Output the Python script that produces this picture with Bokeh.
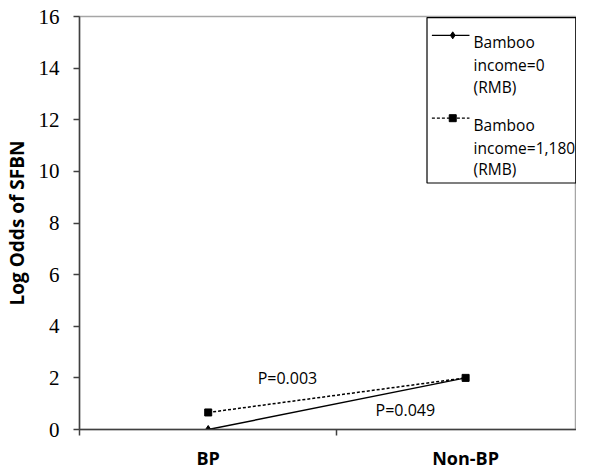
from bokeh.plotting import figure
from bokeh.models import FixedTicker, Label, Range1d
from bokeh.embed import file_html
from bokeh.resources import INLINE

categories = ["BP", "Non-BP"]
income0 = [0.0, 2.0]
income1180 = [0.66, 2.0]
y_ticks = [0, 2, 4, 6, 8, 10, 12, 14, 16]
series_names = ["Bamboo\nincome=0\n(RMB)", "Bamboo\nincome=1,180\n(RMB)"]
p_labels = ["P=0.003", "P=0.049"]

xs = [i + 0.5 for i in range(len(categories))]

p = figure(width=576, height=472, output_backend="svg", toolbar_location=None,
           x_range=Range1d(0, 502 / 260), y_range=Range1d(0, 16),
           min_border_left=74, min_border_right=0, min_border_top=16, min_border_bottom=42)
p.background_fill_color = "white"
p.border_fill_color = "white"
p.outline_line_color = "#a6a6a6"
p.outline_line_width = 1.5
p.grid.visible = False

sans = "Open Sans"

# y axis
ya = p.yaxis[0]
ya.ticker = FixedTicker(ticks=y_ticks)
ya.axis_line_color = "#404040"
ya.axis_line_width = 1.5
ya.major_tick_line_color = "#404040"
ya.major_tick_line_width = 1.5
ya.major_tick_out = 6
ya.major_tick_in = 0
ya.minor_tick_line_color = None
ya.major_label_text_font = "Liberation Serif"
ya.major_label_text_font_size = "21px"
ya.major_label_text_color = "black"
ya.major_label_standoff = 14
ya.axis_label = "Log Odds of SFBN"
ya.axis_label_text_font = sans
ya.axis_label_text_font_style = "bold"
ya.axis_label_text_font_size = "19px"
ya.axis_label_text_color = "black"
ya.axis_label_standoff = 6

# x axis: category names at the centres, tick marks between categories
xa = p.xaxis[0]
xa.ticker = FixedTicker(ticks=xs, minor_ticks=[0, 1])
xa.major_label_overrides = {x: c for x, c in zip(xs, categories)}
xa.major_label_text_font = sans
xa.major_label_text_font_style = "bold"
xa.major_label_text_font_size = "18px"
xa.major_label_text_color = "black"
xa.major_label_standoff = 10
xa.axis_line_color = "#404040"
xa.axis_line_width = 1.5
xa.major_tick_line_color = None
xa.major_tick_out = 0
xa.major_tick_in = 0
xa.minor_tick_line_color = "#404040"
xa.minor_tick_line_width = 1.5
xa.minor_tick_out = 6
xa.minor_tick_in = 0

# legend box (drawn first so that its marks sit on top)
p.quad(left=[1.35], right=[1.928], top=[15.96], bottom=[9.55],
       fill_color="white", line_color="black", line_width=1.2)

# data lines
p.line(xs, income1180, line_color="black", line_width=1.5, line_dash="3 2")
p.scatter(xs, income1180, marker="square", size=7, fill_color="black", line_color="black")
p.line(xs, income0, line_color="black", line_width=1.5)
p.scatter(xs[:1], income0[:1], marker="diamond", size=8, fill_color="black", line_color="black")

# p-value annotations
p.add_layout(Label(x=0.692, y=2.01, text=p_labels[0], text_font=sans, text_font_size="16px",
                   text_color="black", text_baseline="middle", text_align="left"))
p.add_layout(Label(x=1.15, y=0.754, text=p_labels[1], text_font=sans, text_font_size="16px",
                   text_color="black", text_baseline="middle", text_align="left"))

leg_line_y = [15.27, 12.06]
leg_text_y = [[15.01, 14.11, 13.28], [11.79, 10.92, 10.11]]
line_styles = ["solid", "3 2"]
markers = ["diamond", "square"]
for i in range(2):
    p.line([1.369, 1.515], [leg_line_y[i]] * 2, line_color="black", line_width=1.2,
           line_dash=line_styles[i])
    p.scatter([1.45], [leg_line_y[i]], marker=markers[i], size=7,
              fill_color="black", line_color="black")
    for j, t in enumerate(series_names[i].split("\n")):
        p.add_layout(Label(x=1.531, y=leg_text_y[i][j], text=t, text_font=sans,
                           text_font_size="15.5px", text_color="black",
                           text_baseline="middle", text_align="left"))

open("out.html", "w").write(file_html(p, INLINE))
